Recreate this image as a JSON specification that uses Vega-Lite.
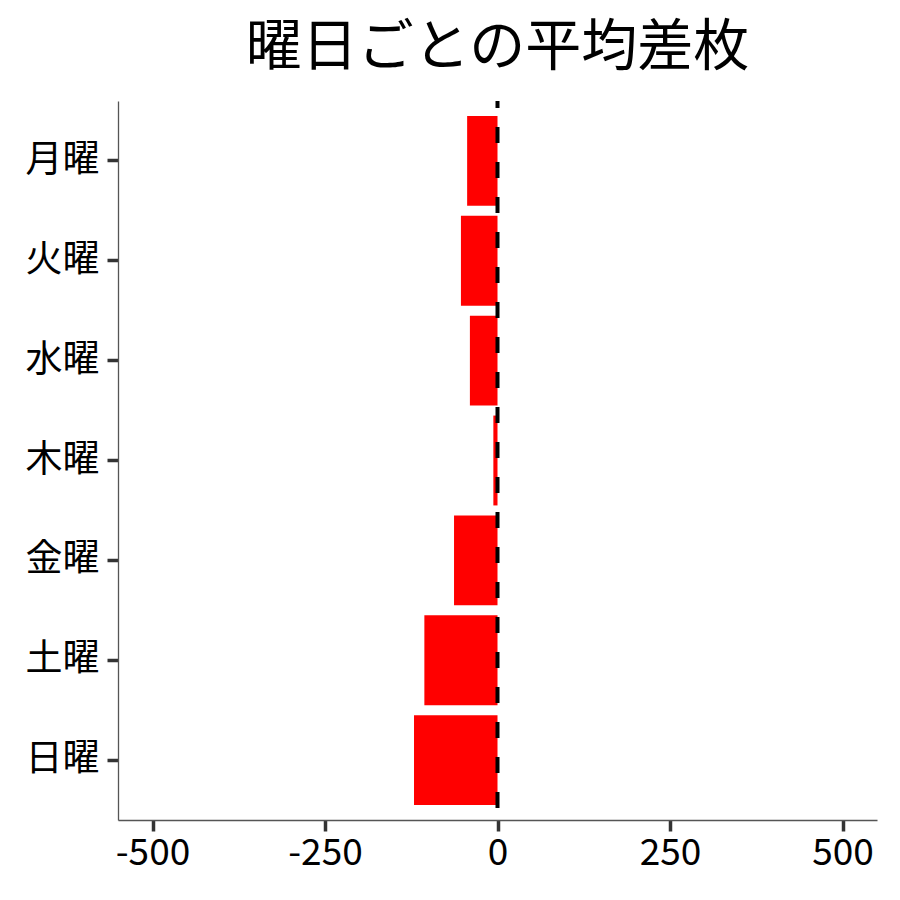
{
  "$schema": "https://vega.github.io/schema/vega-lite/v6.json",
  "autosize": "none",
  "width": 759,
  "height": 719,
  "padding": {"left": 118, "top": 101, "right": 23, "bottom": 80},
  "background": "white",
  "title": {
    "text": "曜日ごとの平均差枚",
    "font": "Noto Sans CJK JP",
    "fontSize": 56,
    "fontWeight": "normal",
    "color": "black",
    "anchor": "middle",
    "offset": 22
  },
  "data": {
    "values": [
      {"day": "月曜", "diff": -44},
      {"day": "火曜", "diff": -53},
      {"day": "水曜", "diff": -40},
      {"day": "木曜", "diff": -6},
      {"day": "金曜", "diff": -63},
      {"day": "土曜", "diff": -106},
      {"day": "日曜", "diff": -121}
    ]
  },
  "layer": [
    {
      "mark": {"type": "bar", "color": "#FF0000"},
      "encoding": {
        "y": {
          "field": "day",
          "type": "nominal",
          "sort": ["月曜", "火曜", "水曜", "木曜", "金曜", "土曜", "日曜"],
          "scale": {"paddingInner": 0.1, "paddingOuter": 0.15},
          "axis": {"title": null, "labelPadding": 8}
        },
        "x": {
          "field": "diff",
          "type": "quantitative",
          "scale": {"domain": [-550, 550], "nice": false, "zero": false},
          "axis": {
            "title": null,
            "values": [-500, -250, 0, 250, 500],
            "labelExpr": "replace(datum.label, '−', '-')",
            "labelPadding": 4
          }
        }
      }
    },
    {
      "data": {"values": [{"x": 0}]},
      "mark": {
        "type": "rule",
        "color": "black",
        "strokeWidth": 4,
        "strokeDash": [16, 19],
        "strokeDashOffset": 9
      },
      "encoding": {
        "x": {"field": "x", "type": "quantitative"}
      }
    }
  ],
  "config": {
    "view": {"stroke": null},
    "axis": {
      "grid": false,
      "domainColor": "#555555",
      "domainWidth": 1.3,
      "tickColor": "#333333",
      "tickWidth": 3.5,
      "tickSize": 11,
      "labelFont": "Noto Sans CJK JP",
      "labelFontSize": 37,
      "labelColor": "black"
    }
  }
}
